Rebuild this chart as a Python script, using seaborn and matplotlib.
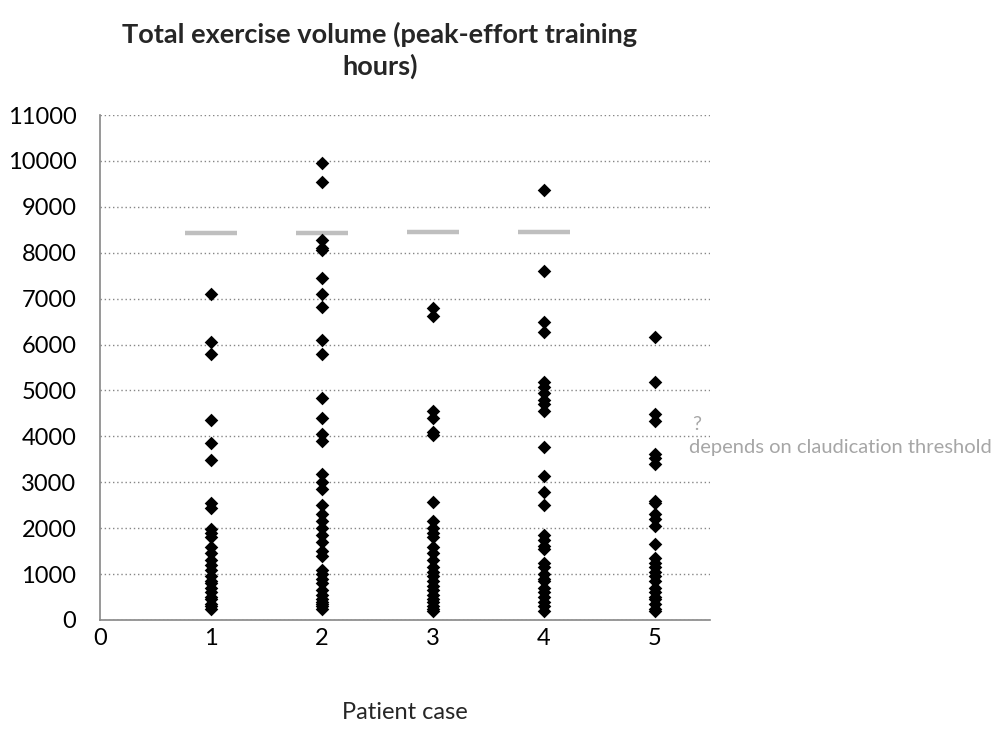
import numpy as np
import pandas as pd
import matplotlib
matplotlib.use("Agg")
import matplotlib.pyplot as plt
import seaborn as sns

# Peak-effort training hours per patient case
case_1 = [7100, 6050, 5800, 4350, 3850, 3480, 2550, 2450, 1980, 1900, 1800,
          1600, 1450, 1300, 1200, 1100, 950, 850, 800, 700, 600, 500, 450,
          350, 300, 250]
case_2 = [9950, 9550, 8280, 8100, 8050, 7450, 7100, 6820, 6100, 5800, 4830,
          4400, 4050, 3900, 3170, 3000, 2850, 2500, 2300, 2150, 2000, 1850,
          1700, 1500, 1400, 1100, 1000, 900, 800, 650, 550, 450, 400, 350,
          300, 250]
case_3 = [6800, 6620, 4560, 4400, 4100, 4020, 2560, 2150, 2000, 1900, 1800,
          1600, 1450, 1300, 1150, 1050, 950, 850, 750, 650, 550, 450, 400,
          300, 250, 200]
case_4 = [9370, 7600, 6500, 6270, 5180, 5080, 4950, 4800, 4700, 4560, 3760,
          3130, 2780, 2500, 1850, 1750, 1620, 1550, 1250, 1150, 1000, 900,
          850, 700, 600, 500, 400, 300, 200]
case_5 = [6170, 5190, 4490, 4330, 3620, 3530, 3400, 2600, 2550, 2300, 2200,
          2050, 1650, 1350, 1250, 1150, 1050, 950, 850, 700, 600, 500, 450,
          350, 250, 200]

# Gray reference marks (cases 1-4)
ref_cases = [1, 2, 3, 4]
ref_values = [8440, 8430, 8460, 8460]

y_ticks = list(range(0, 11001, 1000))
x_ticks = [0, 1, 2, 3, 4, 5]


def build_frame():
    rows = []
    for case, values in enumerate([case_1, case_2, case_3, case_4, case_5], start=1):
        for v in values:
            rows.append({"case": case, "hours": v})
    return pd.DataFrame(rows)


def main():
    sns.set_style("white")
    plt.rcParams["font.family"] = ["Lato", "DejaVu Sans"]

    df = build_frame()
    ref = pd.DataFrame({"case": ref_cases, "hours": ref_values})

    fig = plt.figure(figsize=(9.92, 7.51), dpi=100)
    ax = fig.add_axes([100 / 992, 1 - 620 / 751, 610 / 992, 505 / 751])

    sns.scatterplot(data=ref, x="case", y="hours", marker="_", s=1450,
                    color="#bfbfbf", linewidth=3.2, ax=ax, zorder=2)
    sns.scatterplot(data=df, x="case", y="hours", marker="D", s=48,
                    color="black", edgecolor="black", linewidth=0, ax=ax,
                    zorder=3)

    ax.set_xlim(0, 5.5)
    ax.set_ylim(0, 11000)
    ax.set_xticks(x_ticks)
    ax.set_yticks(y_ticks)
    ax.tick_params(axis="both", labelsize=17, colors="#868686",
                   labelcolor="black", direction="out", length=5, width=1.2)
    ax.tick_params(axis="x", pad=1)
    ax.tick_params(axis="y", pad=12)
    ax.yaxis.grid(True, linestyle=(0, (1, 2)), color="#868686", linewidth=1)
    ax.xaxis.grid(False)
    ax.set_axisbelow(True)

    for side in ["top", "right"]:
        ax.spines[side].set_visible(False)
    for side in ["left", "bottom"]:
        ax.spines[side].set_color("#868686")
        ax.spines[side].set_linewidth(1.2)

    ax.set_xlabel("Patient case", fontsize=17, labelpad=38)
    ax.set_ylabel("")

    fig.text(380 / 992, 1 - 50 / 751,
             "Total exercise volume (peak-effort training\nhours)",
             ha="center", va="center", fontsize=19.5, fontweight="bold",
             linespacing=1.3)

    fig.text(692 / 992, 1 - 424 / 751, "?", color="#a6a6a6", fontsize=14.5,
             va="center", ha="left")
    fig.text(689 / 992, 1 - 447 / 751, "depends on claudication threshold",
             color="#a6a6a6", fontsize=14.5, va="center", ha="left")

    fig.savefig("out.png", dpi=100)


if __name__ == "__main__":
    main()
